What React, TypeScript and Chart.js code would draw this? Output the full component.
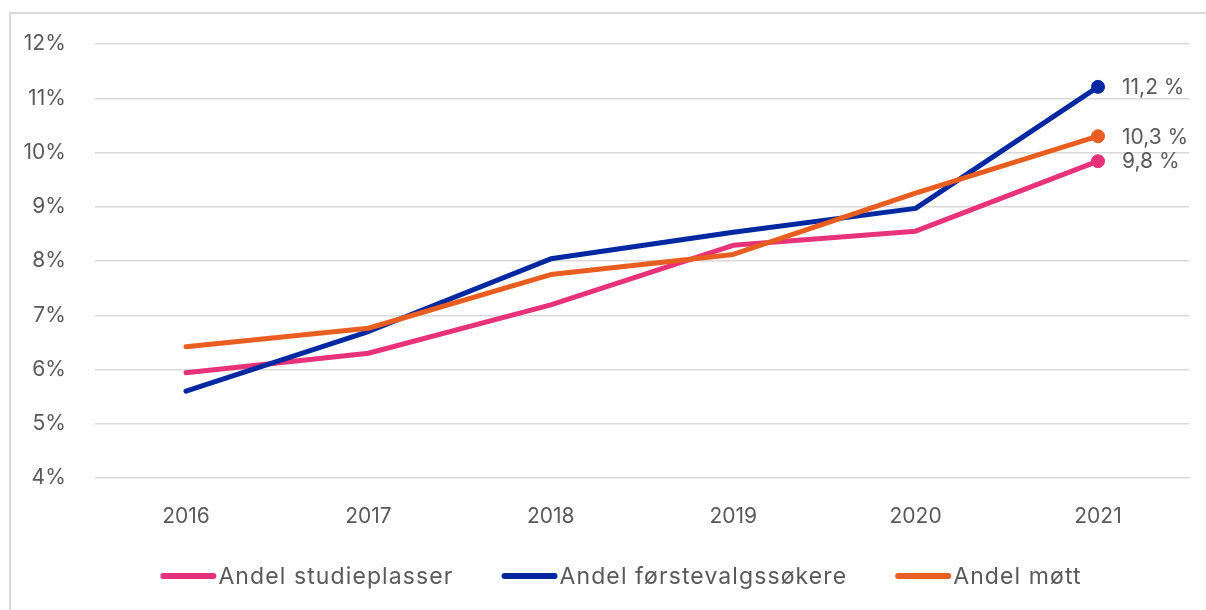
import React, { useEffect, useRef } from "react";
import { Chart, registerables } from "chart.js";

Chart.register(...registerables);

const categories = ["2016", "2017", "2018", "2019", "2020", "2021"];
const andelStudieplasser = [5.94, 6.3, 7.19, 8.29, 8.55, 9.84];
const andelForstevalg = [5.6, 6.7, 8.04, 8.53, 8.97, 11.21];
const andelMott = [6.42, 6.76, 7.75, 8.12, 9.25, 10.3];
const seriesNames = ["Andel studieplasser", "Andel førstevalgssøkere", "Andel møtt"];
const seriesColors = ["#E8327A", "#0028A0", "#E85D20"];
const yMin = 4;
const yMax = 12;
const yStep = 1;

const FONT = "Inter, 'Noto Sans', sans-serif";
const TEXT = "#595959";

const fmtEnd = (v: number) => v.toFixed(1).replace(".", ",") + " %";

const endLabelPlugin = {
  id: "endLabels",
  afterDatasetsDraw(chart: any) {
    const ctx = chart.ctx;
    ctx.save();
    ctx.font = `21px ${FONT}`;
    ctx.fillStyle = TEXT;
    ctx.textAlign = "left";
    ctx.textBaseline = "middle";
    chart.data.datasets.forEach((ds: any, i: number) => {
      const meta = chart.getDatasetMeta(i);
      const last = meta.data[meta.data.length - 1];
      if (!last) return;
      ctx.fillText(fmtEnd(ds.data[ds.data.length - 1]), last.x + 24, last.y + 1);
    });
    ctx.restore();
  },
};

const legendPlugin = {
  id: "customLegend",
  afterDraw(chart: any) {
    const ctx = chart.ctx;
    ctx.save();
    ctx.font = `23px ${FONT}`;
    try {
      (ctx as any).letterSpacing = "1.1px";
    } catch (e) {}
    const sw = 56;
    const gap = 2;
    const itemGap = 48;
    const widths = seriesNames.map((n) => sw + gap + ctx.measureText(n).width);
    const total = widths.reduce((a, b) => a + b, 0) + itemGap * (widths.length - 1);
    const center = 621;
    let x = center - total / 2;
    const y = 576;
    seriesNames.forEach((n, i) => {
      ctx.strokeStyle = seriesColors[i];
      ctx.lineWidth = 6;
      ctx.lineCap = "round";
      ctx.beginPath();
      ctx.moveTo(x + 3, y);
      ctx.lineTo(x + sw - 3, y);
      ctx.stroke();
      ctx.fillStyle = TEXT;
      ctx.textAlign = "left";
      ctx.textBaseline = "middle";
      ctx.fillText(n, x + sw + gap, y + 1);
      x += widths[i] + itemGap;
    });
    ctx.restore();
  },
};

export default function App() {
  const ref = useRef<HTMLCanvasElement>(null);
  useEffect(() => {
    document.body.style.margin = "0";
    const lastIdx = categories.length - 1;
    const mk = (label: string, data: number[], color: string, order: number) => ({
      label,
      data,
      borderColor: color,
      backgroundColor: color,
      borderWidth: 5,
      borderCapStyle: "round",
      borderJoinStyle: "round",
      tension: 0,
      order,
      pointRadius: (c: any) => (c.dataIndex === lastIdx ? 6.5 : 0),
      pointBorderWidth: 1,
      pointBorderColor: color,
      pointBackgroundColor: color,
      pointHoverRadius: 0,
    });
    const chart = new Chart(ref.current!, {
      type: "line",
      data: {
        labels: categories,
        datasets: [
          mk(seriesNames[0], andelStudieplasser, seriesColors[0], 2),
          mk(seriesNames[1], andelForstevalg, seriesColors[1], 1),
          mk(seriesNames[2], andelMott, seriesColors[2], 0),
        ],
      },
      options: {
        animation: false,
        responsive: false,
        layout: { padding: { top: 44, right: 16.8, bottom: 82, left: 0 } },
        plugins: { legend: { display: false }, tooltip: { enabled: false } },
        scales: {
          x: {
            offset: true,
            grid: { display: false },
            border: { display: false },
            ticks: { color: TEXT, font: { family: FONT, size: 21 }, padding: 18 },
            afterFit: (s: any) => {
              s.height = 50;
            },
          },
          y: {
            min: yMin,
            max: yMax,
            ticks: {
              stepSize: yStep,
              color: TEXT,
              font: { family: FONT, size: 21 },
              padding: 29,
              callback: (v: any) => `${v}%`,
            },
            grid: { color: "#d9d9d9", lineWidth: 1.5, drawTicks: false },
            border: { display: false },
            afterFit: (s: any) => {
              s.width = 94.8;
            },
          },
        },
      },
      plugins: [endLabelPlugin, legendPlugin],
    } as any);
    return () => chart.destroy();
  }, []);
  return (
    <div style={{ position: "relative", width: 1206, height: 610, overflow: "hidden", background: "#fff" }}>
      <div
        style={{
          position: "absolute",
          left: 9,
          top: 12,
          width: 1300,
          height: 700,
          borderLeft: "2px solid #d9d9d9",
          borderTop: "2px solid #d9d9d9",
        }}
      />
      <canvas ref={ref} width={1206} height={610} style={{ position: "absolute", left: 0, top: 0, display: "block" }} />
    </div>
  );
}
